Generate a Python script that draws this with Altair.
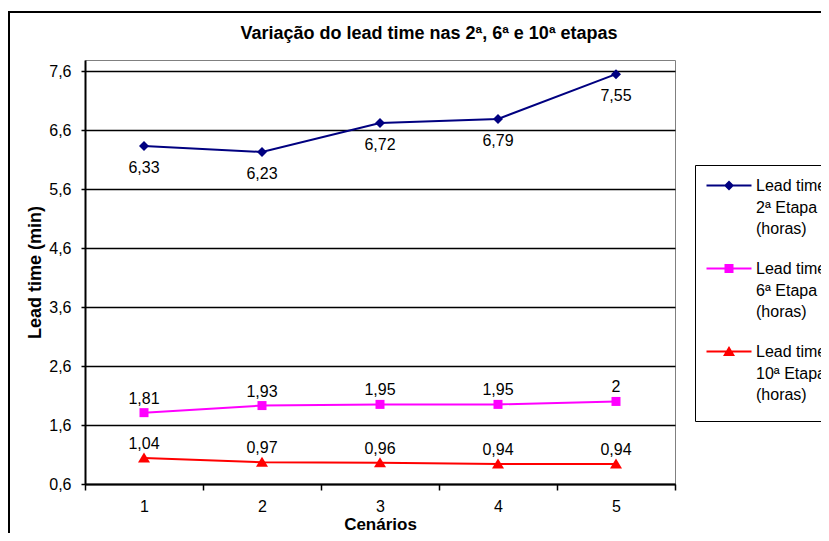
import altair as alt
import pandas as pd

cenarios = ["1", "2", "3", "4", "5"]
series = ["Lead time\n2ª Etapa\n(horas)", "Lead time\n6ª Etapa\n(horas)", "Lead time\n10ª Etapa\n(horas)"]
etapa2 = [6.33, 6.23, 6.72, 6.79, 7.55]
etapa6 = [1.81, 1.93, 1.95, 1.95, 2.0]
etapa10 = [1.04, 0.97, 0.96, 0.94, 0.94]
label_pos = ["below", "above", "above"]
colors = ["#000080", "#FF00FF", "#FF0000"]
y_ticks = [0.6, 1.6, 2.6, 3.6, 4.6, 5.6, 6.6, 7.6]

rows = []
for s, vals, pos in zip(series, [etapa2, etapa6, etapa10], label_pos):
    for c, v in zip(cenarios, vals):
        rows.append({"cenario": c, "serie": s, "valor": v,
                     "rotulo": f"{v:g}".replace(".", ","), "pos": pos})
df = pd.DataFrame(rows)

FONT = "Liberation Sans"

marker_paths = [
    "M0,-1L1,0L0,1L-1,0Z",
    "M-0.9,-0.9H0.9V0.9H-0.9Z",
    "M0,-1.1L1.2,0.9H-1.2Z",
]
# legend symbols: line segment + marker, raised to sit on the first label line
legend_paths = [
    "M-3.9,-1.3H5.1V-0.9H-3.9Z M0.6,-2.1L1.6,-1.1L0.6,-0.1L-0.4,-1.1Z",
    "M-3.9,-1.3H5.1V-0.9H-3.9Z M-0.3,-2H1.5V-0.2H-0.3Z",
    "M-3.9,-1.3H5.1V-0.9H-3.9Z M0.6,-2.2L1.8,-0.2H-0.6Z",
]

LEG_EXPR = "split(datum.label, '\\n')"

xenc = alt.X("cenario:O", sort=cenarios,
             scale=alt.Scale(type="band", paddingInner=0, paddingOuter=0),
             axis=alt.Axis(title="Cenários", tickBand="extent", labelAngle=0,
                           grid=False, tickSize=6, labelPadding=8, titlePadding=2,
                           titleFontSize=17))
yenc = alt.Y("valor:Q",
             scale=alt.Scale(domain=[0.6, 7.79], nice=False, zero=False),
             axis=alt.Axis(title="Lead time (min)", values=y_ticks,
                           labelExpr="replace(format(datum.value, '.1f'), '.', ',')",
                           tickSize=4, labelPadding=10, titlePadding=4))

def cscale():
    return alt.Scale(domain=series, range=colors)

base = alt.Chart(df)

lines = base.mark_line(strokeWidth=2).encode(
    x=xenc, y=yenc, color=alt.Color("serie:N", scale=cscale(), legend=None))

markers = base.mark_point(filled=True, opacity=1, size=100).encode(
    x=xenc, y=yenc,
    color=alt.Color("serie:N", scale=cscale(), legend=None),
    shape=alt.Shape("serie:N", scale=alt.Scale(domain=series, range=marker_paths), legend=None))

lab_below = base.transform_filter(alt.datum.pos == "below").mark_text(
    dy=22, fontSize=16, font=FONT, color="black").encode(x=xenc, y=yenc, text="rotulo:N")
lab_above = base.transform_filter(alt.datum.pos == "above").mark_text(
    dy=-14, fontSize=16, font=FONT, color="black").encode(x=xenc, y=yenc, text="rotulo:N")

carrier = base.transform_filter("false").mark_point(filled=True, opacity=1, size=100).encode(
    x=xenc, y=yenc,
    color=alt.Color("serie:N", scale=cscale(), legend=alt.Legend(title=None, labelExpr=LEG_EXPR)),
    shape=alt.Shape("serie:N", scale=alt.Scale(domain=series, range=legend_paths),
                    legend=alt.Legend(title=None, labelExpr=LEG_EXPR)))

frame = alt.Chart(pd.DataFrame({"f": [0]})).mark_rect(
    fillOpacity=0, stroke="black", strokeWidth=2).encode(
    x=alt.value(-76), x2=alt.value(760), y=alt.value(-48), y2=alt.value(500))

chart = alt.layer(frame, lines, markers, lab_below, lab_above, carrier).resolve_scale(
    color="independent", shape="independent"
).properties(
    width=590, height=424,
    autosize=alt.AutoSizeParams(type="none"),
    padding={"left": 77, "top": 52, "right": 146, "bottom": 49},
    title=alt.TitleParams("Variação do lead time nas 2ª, 6ª e 10ª etapas",
                          font=FONT, fontSize=18, fontWeight="bold", color="black",
                          anchor="middle", dx=49, dy=19, offset=-27, baseline="alphabetic"),
).configure_view(stroke="#808080", strokeWidth=1
).configure_axis(
    labelFont=FONT, labelFontSize=16, labelColor="black",
    titleFont=FONT, titleFontSize=18, titleFontWeight="bold", titleColor="black",
    domainColor="black", domainWidth=2, tickColor="black", tickWidth=1.5,
    gridColor="black", gridWidth=1.5,
).configure_legend(
    orient="none", legendX=610, legendY=105,
    labelFont=FONT, labelFontSize=16, labelColor="black", labelLimit=300,
    labelBaseline="alphabetic",
    symbolSize=100, symbolStrokeWidth=0, symbolOffset=5, labelOffset=22,
    padding=18, rowPadding=24, strokeColor="black", fillColor="white",
)
chart.config.style = {"guide-label": {"lineHeight": 21.5}}

chart.save("out.html", embed_options={"renderer": "svg", "actions": False})
